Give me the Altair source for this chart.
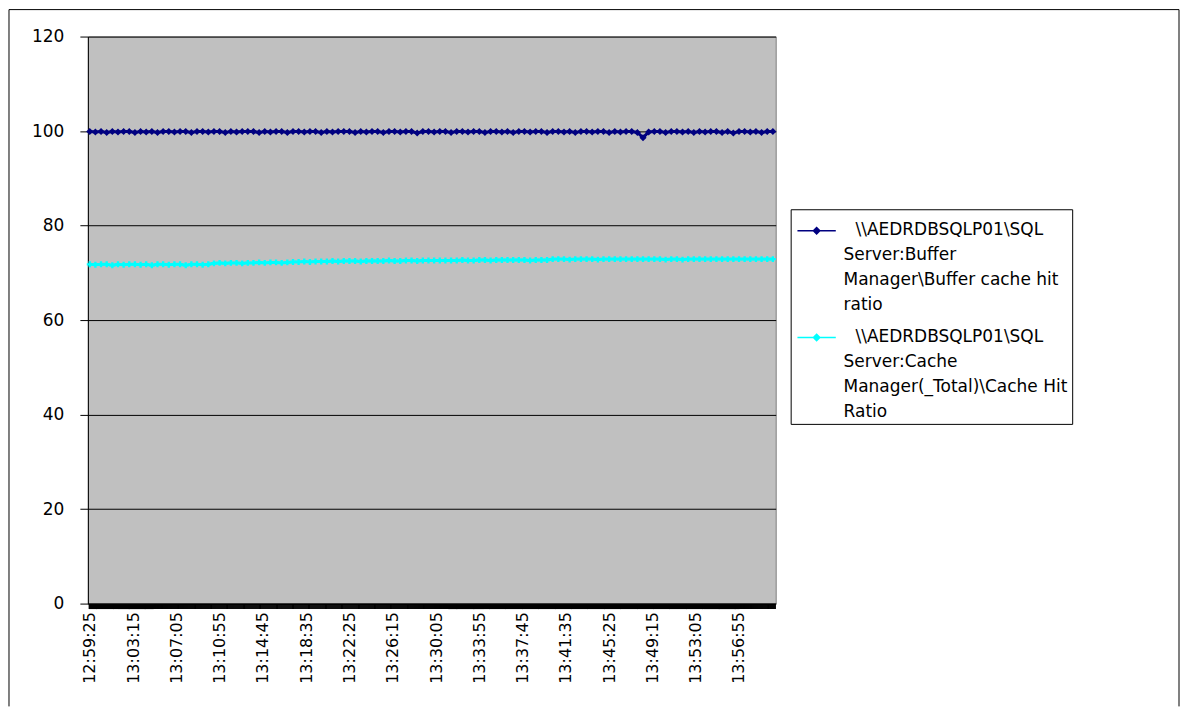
import json
import altair as alt
import pandas as pd

# ---------------- data ----------------
start_time = "12:59:25"
sample_step_s = 30

series_names = [
    "\u200b\u2002\u2009\\\\AEDRDBSQLP01\\SQL|Server:Buffer|Manager\\Buffer cache hit|ratio",
    "\u200b\u2002\u2009\\\\AEDRDBSQLP01\\SQL|Server:Cache|Manager(_Total)\\Cache Hit|Ratio",
]
series_colors = ["#000080", "#00FFFF"]
series_shapes = ["diamond", "cross"]

buffer_hit = [
    99.9, 99.8, 99.9, 99.7, 99.9, 99.8, 99.9, 99.9, 99.7, 99.9,
    99.8, 99.9, 99.7, 99.9, 99.9, 99.8, 99.9, 99.9, 99.7, 99.9,
    99.9, 99.8, 99.9, 99.9, 99.7, 99.9, 99.8, 99.9, 99.9, 99.9,
    99.7, 99.9, 99.8, 99.9, 99.9, 99.7, 99.9, 99.9, 99.8, 99.9,
    99.9, 99.7, 99.9, 99.8, 99.9, 99.9, 99.9, 99.7, 99.9, 99.8,
    99.9, 99.9, 99.7, 99.9, 99.9, 99.8, 99.9, 99.9, 99.6, 99.9,
    99.9, 99.8, 99.9, 99.9, 99.7, 99.9, 99.9, 99.8, 99.9, 99.9,
    99.7, 99.9, 99.9, 99.8, 99.9, 99.7, 99.9, 99.9, 99.8, 99.9,
    99.9, 99.7, 99.9, 99.9, 99.8, 99.9, 99.7, 99.9, 99.9, 99.8,
    99.9, 99.9, 99.7, 99.9, 99.8, 99.9, 99.9, 99.7, 98.6, 99.8,
    99.9, 99.9, 99.7, 99.9, 99.9, 99.8, 99.9, 99.7, 99.9, 99.8,
    99.9, 99.9, 99.7, 99.9, 99.6, 99.9, 99.9, 99.8, 99.9, 99.7,
    99.9, 99.9,
]

cache_hit = [
    71.8, 71.7, 71.8, 71.8, 71.6, 71.8, 71.7, 71.8, 71.8, 71.7,
    71.8, 71.6, 71.8, 71.8, 71.7, 71.8, 71.8, 71.6, 71.8, 71.8,
    71.7, 71.8, 72.0, 72.1, 72.0, 72.1, 72.1, 72.0, 72.1, 72.1,
    72.2, 72.1, 72.2, 72.2, 72.1, 72.2, 72.3, 72.3, 72.4, 72.3,
    72.4, 72.4, 72.4, 72.5, 72.4, 72.5, 72.5, 72.5, 72.4, 72.5,
    72.5, 72.5, 72.5, 72.6, 72.5, 72.5, 72.6, 72.6, 72.5, 72.6,
    72.6, 72.6, 72.6, 72.6, 72.6, 72.6, 72.7, 72.6, 72.6, 72.7,
    72.7, 72.6, 72.7, 72.7, 72.7, 72.7, 72.7, 72.7, 72.6, 72.7,
    72.7, 72.7, 72.9, 72.9, 72.9, 72.8, 72.9, 72.9, 72.9, 72.9,
    72.8, 72.9, 72.9, 72.9, 72.9, 72.9, 72.9, 72.9, 72.9, 72.9,
    72.9, 72.9, 72.8, 72.9, 72.9, 72.8, 72.9, 72.9, 72.9, 72.9,
    72.9, 72.9, 72.9, 72.9, 72.9, 72.9, 72.9, 72.9, 72.9, 72.9,
    72.9, 72.9,
]

tick_labels = [
    "12:59:25", "13:03:15", "13:07:05", "13:10:55", "13:14:45", "13:18:35",
    "13:22:25", "13:26:15", "13:30:05", "13:33:55", "13:37:45", "13:41:35",
    "13:45:25", "13:49:15", "13:53:05", "13:56:55",
]

y_ticks = [0, 20, 40, 60, 80, 100, 120]


def to_sec(s):
    h, m, x = (int(p) for p in s.split(":"))
    return h * 3600 + m * 60 + x


t0 = to_sec(start_time)
rows = []
for name, vals in zip(series_names, [buffer_hit, cache_hit]):
    for i, v in enumerate(vals):
        rows.append({"t": t0 + sample_step_s * i, "series": name, "value": v})
df = pd.DataFrame(rows)

label_secs = [to_sec(s) for s in tick_labels]
x_min, x_max = t0 - 10, t0 + 3645
minor_ticks = list(range(t0 - 5, x_max, 5))

label_expr = (
    f"indexof({json.dumps(label_secs)}, datum.value) >= 0 ? "
    f"{json.dumps(tick_labels)}[indexof({json.dumps(label_secs)}, datum.value)] : ''"
)

FONT = "DejaVu Sans"

x_enc = alt.X(
    "t:Q",
    scale=alt.Scale(domain=[x_min, x_max], nice=False, zero=False),
    axis=alt.Axis(
        values=minor_ticks,
        labelExpr=label_expr,
        labelAngle=270,
        labelAlign="right",
        labelBaseline="middle",
        labelOverlap=False,
        labelPadding=3,
        labelFontSize=16,
        labelFont=FONT,
        labelColor="black",
        tickSize=5,
        tickWidth=1.5,
        tickColor="black",
        domainColor="black",
        grid=False,
        title=None,
    ),
)
y_enc = alt.Y(
    "value:Q",
    scale=alt.Scale(domain=[0, 120], nice=False),
    axis=alt.Axis(
        values=y_ticks,
        grid=True,
        gridColor="black",
        gridWidth=1,
        tickSize=8,
        tickColor="black",
        domainColor="black",
        labelPadding=16,
        labelFontSize=17,
        labelFont=FONT,
        labelColor="black",
        title=None,
    ),
)

color_scale = alt.Scale(domain=series_names, range=series_colors)

legend = alt.Legend(
    title=None,
    orient="none",
    legendX=704,
    legendY=173,
    strokeColor="black",
    fillColor="white",
    padding=4,
    labelExpr="split(datum.label, '|')",
    labelFont=FONT,
    labelFontSize=17,
    labelColor="black",
    labelLimit=600,
    labelBaseline="top",
    labelOffset=18,
    rowPadding=7,
    symbolOffset=13,
    symbolType="M-2.4,1.06L2.4,1.06M0,0.66L0.4,1.06L0,1.46L-0.4,1.06Z",
    symbolSize=256,
    symbolStrokeWidth=1.5,
)

base = alt.Chart(df)

lines = base.mark_line(strokeWidth=3).encode(
    x=x_enc,
    y=y_enc,
    color=alt.Color("series:N", scale=color_scale, legend=legend, sort=series_names),
)

point_layers = []
for name, shape, size in zip(series_names, series_shapes, [50, 35]):
    point_layers.append(
        base.transform_filter(alt.datum.series == name)
        .mark_point(filled=True, size=size, opacity=1, shape=shape)
        .encode(
            x=x_enc,
            y=y_enc,
            color=alt.Color("series:N", scale=color_scale, legend=None),
        )
    )

frame_left = alt.Chart(alt.Data(values=[{"k": 1}])).mark_rule(color="black", strokeWidth=1).encode(
    x=alt.value(-79), y=alt.value(-27), y2=alt.value(671)
)
frame_top = alt.Chart(alt.Data(values=[{"k": 1}])).mark_rule(color="black", strokeWidth=1).encode(
    x=alt.value(-79), x2=alt.value(1093), y=alt.value(-27)
)
frame_right = alt.Chart(alt.Data(values=[{"k": 1}])).mark_rule(color="black", strokeWidth=1).encode(
    x=alt.value(1093), y=alt.value(-27), y2=alt.value(671)
)

chart = (
    alt.layer(frame_left, frame_top, frame_right, lines, *point_layers)
    .properties(width=689, height=568, padding=0)
    .configure(background="white", style={"guide-label": {"lineHeight": 25}})
    .configure_view(fill="#C0C0C0", stroke="#808080", strokeWidth=1)
)

chart.save("out.html", embed_options={"renderer": "svg", "actions": False})
